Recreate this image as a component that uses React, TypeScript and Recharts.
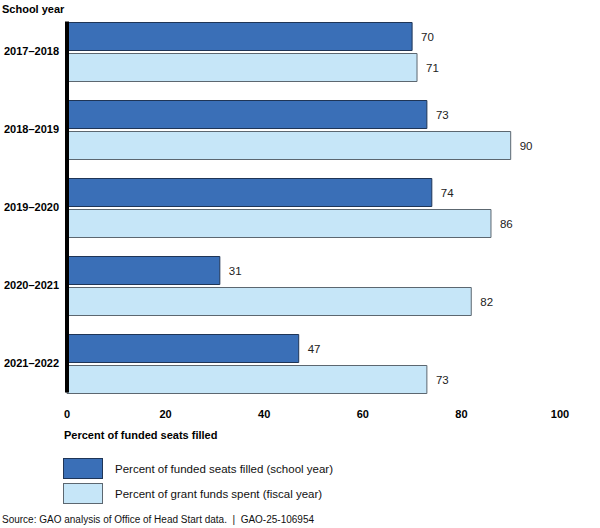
import React from 'react';
import { BarChart, Bar, XAxis, YAxis, LabelList, ReferenceLine } from 'recharts';

const schoolYears = ['2017–2018', '2018–2019', '2019–2020', '2020–2021', '2021–2022'];
const seatsFilled = [70, 73, 74, 31, 47];
const fundsSpent = [71, 90, 86, 82, 73];
const xTicks = [0, 20, 40, 60, 80, 100];

const DARK = '#3a6fb7';
const DARK_EDGE = '#1f3556';
const LIGHT = '#c6e6f8';
const LIGHT_EDGE = '#5c6770';
const FONT = "Arial, 'Liberation Sans', sans-serif";

const data = schoolYears.map((year, i) => ({
  year,
  seats: seatsFilled[i],
  funds: fundsSpent[i],
}));

const legendItems = [
  { label: 'Percent of funded seats filled (school year)', fill: DARK, edge: DARK_EDGE },
  { label: 'Percent of grant funds spent (fiscal year)', fill: LIGHT, edge: LIGHT_EDGE },
];

// black axis line that only spans the bars, not the whole band range
const AxisBar = (p: any) => {
  const top = Math.min(p.y1, p.y2) + 9;
  const bottom = Math.max(p.y1, p.y2) - 10;
  return <line x1={p.x1} x2={p.x2} y1={top} y2={bottom} stroke="#000" strokeWidth={4} />;
};

const App: React.FC = () => {
  return (
    <div style={{ position: 'absolute', left: 0, top: 0, width: 600, height: 528, background: '#fff', fontFamily: FONT }}>
      <div style={{ position: 'absolute', left: 2, top: 3, fontSize: 11, fontWeight: 'bold', color: '#000' }}>
        School year
      </div>
      <BarChart
        width={600}
        height={528}
        data={data}
        layout="vertical"
        margin={{ top: 12.5, right: 40, bottom: 95.5, left: 0 }}
        barSize={28}
        barGap={3}
      >
        <XAxis
          type="number"
          domain={[0, 100]}
          ticks={xTicks}
          axisLine={false}
          tickLine={false}
          height={30}
          tick={{ fontSize: 11, fontWeight: 'bold', fill: '#000', fontFamily: FONT }}
        />
        <YAxis
          type="category"
          dataKey="year"
          width={67}
          axisLine={false}
          tickLine={false}
          tick={{ fontSize: 11, fontWeight: 'bold', fill: '#000', fontFamily: FONT }}
        />
        <Bar dataKey="seats" fill={DARK} stroke={DARK_EDGE} strokeWidth={1} isAnimationActive={false}>
          <LabelList dataKey="seats" position="right" offset={9} style={{ fontSize: 11.5, fill: '#222', fontFamily: FONT }} />
        </Bar>
        <Bar dataKey="funds" fill={LIGHT} stroke={LIGHT_EDGE} strokeWidth={1} isAnimationActive={false}>
          <LabelList dataKey="funds" position="right" offset={9} style={{ fontSize: 11.5, fill: '#222', fontFamily: FONT }} />
        </Bar>
        <ReferenceLine x={0} shape={AxisBar} />
      </BarChart>
      <div style={{ position: 'absolute', left: 64, top: 429, fontSize: 11, fontWeight: 'bold', color: '#000' }}>
        Percent of funded seats filled
      </div>
      <div style={{ position: 'absolute', left: 63, top: 456, fontSize: 11.5, color: '#111' }}>
        {legendItems.map((item) => (
          <div key={item.label} style={{ display: 'flex', alignItems: 'center', height: 25 }}>
            <div style={{ width: 38, height: 19, background: item.fill, border: `1px solid ${item.edge}` }} />
            <span style={{ marginLeft: 12 }}>{item.label}</span>
          </div>
        ))}
      </div>
      <div style={{ position: 'absolute', left: 2, top: 514, fontSize: 10, color: '#111' }}>
        Source: GAO analysis of Office of Head Start data.&nbsp; |&nbsp; GAO-25-106954
      </div>
    </div>
  );
};

export default App;
